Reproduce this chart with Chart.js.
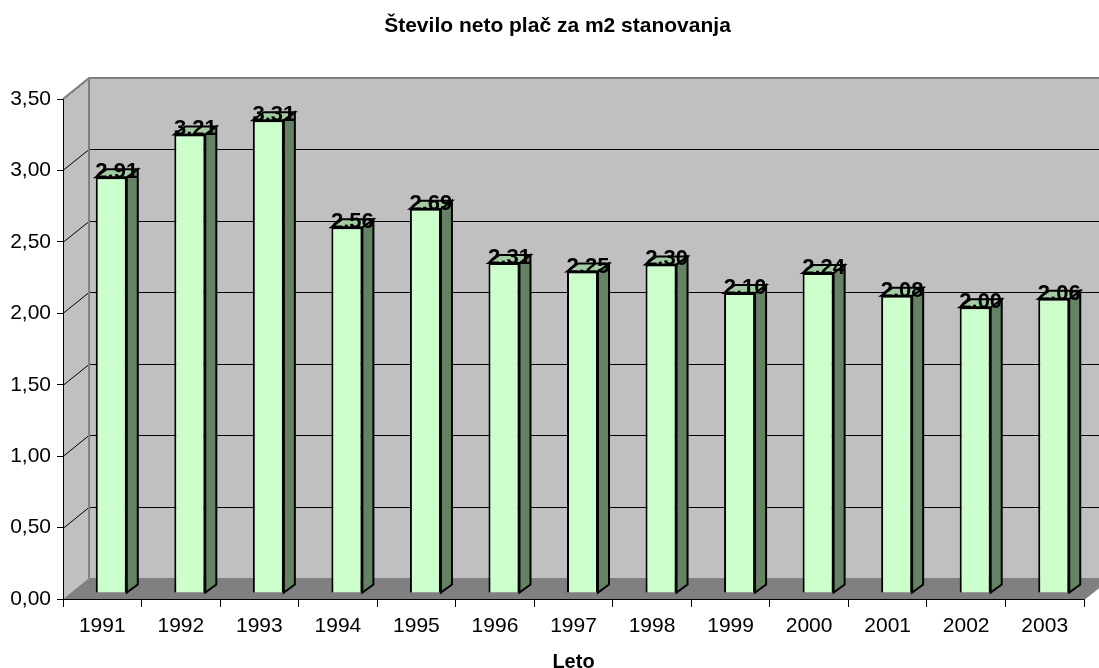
<!DOCTYPE html>
<html>
<head>
<meta charset="utf-8">
<script src="https://cdn.jsdelivr.net/npm/chart.js@4"></script>
<style>
    body { margin: 0; background: #fff; }
</style>
</head>
<body>
<canvas id="chart" width="1099" height="668"></canvas>
<script>
const years = ['1991', '1992', '1993', '1994', '1995', '1996', '1997', '1998', '1999', '2000', '2001', '2002', '2003'];
const salaries = [2.91, 3.21, 3.31, 2.56, 2.69, 2.31, 2.25, 2.30, 2.10, 2.24, 2.08, 2.00, 2.06];
const yTicks = [0, 0.5, 1, 1.5, 2, 2.5, 3, 3.5];
const chartTitle = 'Število neto plač za m2 stanovanja';

// depth of the back wall and of the bars
const wallDx = 26, wallDy = -21;
const barDx = 9, barDy = -6;
const sideDx = 11, sideDy = -8;

const font = '"Liberation Sans", Arial, sans-serif';

const walls = {
    id: 'walls',
    beforeDraw(chart) {
        const ctx = chart.ctx;
        const area = chart.chartArea;
        const y = chart.scales.y;
        const w = chart.width;
        ctx.save();
        // left side wall
        ctx.fillStyle = '#c0c0c0';
        ctx.beginPath();
        ctx.moveTo(area.left, area.bottom);
        ctx.lineTo(area.left, area.top);
        ctx.lineTo(area.left + wallDx, area.top + wallDy);
        ctx.lineTo(area.left + wallDx, area.bottom + wallDy);
        ctx.closePath();
        ctx.fill();
        // back wall
        ctx.fillRect(area.left + wallDx, area.top + wallDy, w, area.bottom - area.top);
        // floor
        ctx.fillStyle = '#808080';
        ctx.beginPath();
        ctx.moveTo(area.left, area.bottom);
        ctx.lineTo(area.right, area.bottom);
        ctx.lineTo(area.right + wallDx, area.bottom + wallDy);
        ctx.lineTo(area.left + wallDx, area.bottom + wallDy);
        ctx.closePath();
        ctx.fill();
        // grid lines
        ctx.strokeStyle = '#000';
        ctx.lineWidth = 1;
        yTicks.forEach(v => {
            if (v === 0) return;
            const py = Math.round(y.getPixelForValue(v)) + 0.5;
            ctx.beginPath();
            ctx.moveTo(area.left, py);
            ctx.lineTo(area.left + wallDx, py + wallDy);
            ctx.lineTo(w, py + wallDy);
            ctx.stroke();
        });
        // wall edges
        ctx.strokeStyle = '#808080';
        ctx.lineWidth = 2;
        ctx.beginPath();
        ctx.moveTo(area.left, area.top);
        ctx.lineTo(area.left + wallDx, area.top + wallDy);
        ctx.lineTo(w, area.top + wallDy);
        ctx.moveTo(area.left + wallDx, area.top + wallDy);
        ctx.lineTo(area.left + wallDx, area.bottom + wallDy);
        ctx.moveTo(area.right, area.bottom);
        ctx.lineTo(area.right + wallDx, area.bottom + wallDy);
        ctx.stroke();
        // title, a little right of the page centre as in the original
        ctx.fillStyle = '#000';
        ctx.font = 'bold 21px ' + font;
        ctx.textAlign = 'center';
        ctx.textBaseline = 'middle';
        ctx.fillText(chartTitle, 557.5, 26);
        ctx.restore();
    }
};

const bars3d = {
    id: 'bars3d',
    beforeDatasetsDraw(chart) {
        chart.ctx.save();
        chart.ctx.translate(barDx, barDy);
    },
    afterDatasetsDraw(chart) {
        const ctx = chart.ctx;
        ctx.restore();
        ctx.save();
        ctx.strokeStyle = '#000';
        ctx.lineWidth = 2;
        chart.getDatasetMeta(0).data.forEach((bar, i) => {
            const left = bar.x - bar.width / 2 + barDx;
            const right = bar.x + bar.width / 2 + barDx;
            const top = bar.y + barDy;
            const base = bar.base + barDy;
            // side face
            ctx.fillStyle = '#658265';
            ctx.beginPath();
            ctx.moveTo(right, top);
            ctx.lineTo(right + sideDx, top + sideDy);
            ctx.lineTo(right + sideDx, base + sideDy);
            ctx.lineTo(right, base);
            ctx.closePath();
            ctx.fill();
            ctx.stroke();
            // top face
            ctx.fillStyle = '#a3cca3';
            ctx.beginPath();
            ctx.moveTo(left, top);
            ctx.lineTo(left + sideDx, top + sideDy);
            ctx.lineTo(right + sideDx, top + sideDy);
            ctx.lineTo(right, top);
            ctx.closePath();
            ctx.fill();
            ctx.stroke();
            // value label
            ctx.fillStyle = '#000';
            ctx.font = 'bold 22px ' + font;
            ctx.textAlign = 'center';
            ctx.textBaseline = 'alphabetic';
            ctx.fillText(salaries[i].toFixed(2), (left + right + sideDx) / 2, top + 1);
        });
        ctx.restore();
    }
};

new Chart(document.getElementById('chart'), {
    type: 'bar',
    data: {
        labels: years,
        datasets: [{
            data: salaries,
            backgroundColor: '#ccffcc',
            borderColor: '#000',
            borderWidth: 2,
            barPercentage: 0.395,
            categoryPercentage: 1,
            clip: false
        }]
    },
    options: {
        responsive: false,
        animation: false,
        layout: { padding: { left: 0, right: 15, top: 99, bottom: 0 } },
        plugins: {
            legend: { display: false },
            tooltip: { enabled: false },
            title: { display: false }
        },
        scales: {
            x: {
                afterFit(scale) { scale.height = 69; },
                grid: { drawOnChartArea: false, color: '#000', tickLength: 8 },
                border: { color: '#000', width: 1 },
                ticks: {
                    color: '#000',
                    padding: 7,
                    maxRotation: 0,
                    font: { family: font, size: 21 }
                },
                title: {
                    display: true,
                    text: 'Leto',
                    color: '#000',
                    font: { family: font, size: 20, weight: 'bold', lineHeight: 0.6 },
                    padding: { top: 0, bottom: 0 }
                }
            },
            y: {
                min: 0,
                max: 3.5,
                afterFit(scale) { scale.width = 63; },
                grid: { drawOnChartArea: false, color: '#000', tickLength: 6 },
                border: { color: '#000', width: 1 },
                ticks: {
                    stepSize: 0.5,
                    color: '#000',
                    padding: 6,
                    font: { family: font, size: 21 },
                    callback: v => v.toFixed(2).replace('.', ',')
                }
            }
        }
    },
    plugins: [walls, bars3d]
});
</script>
</body>
</html>
